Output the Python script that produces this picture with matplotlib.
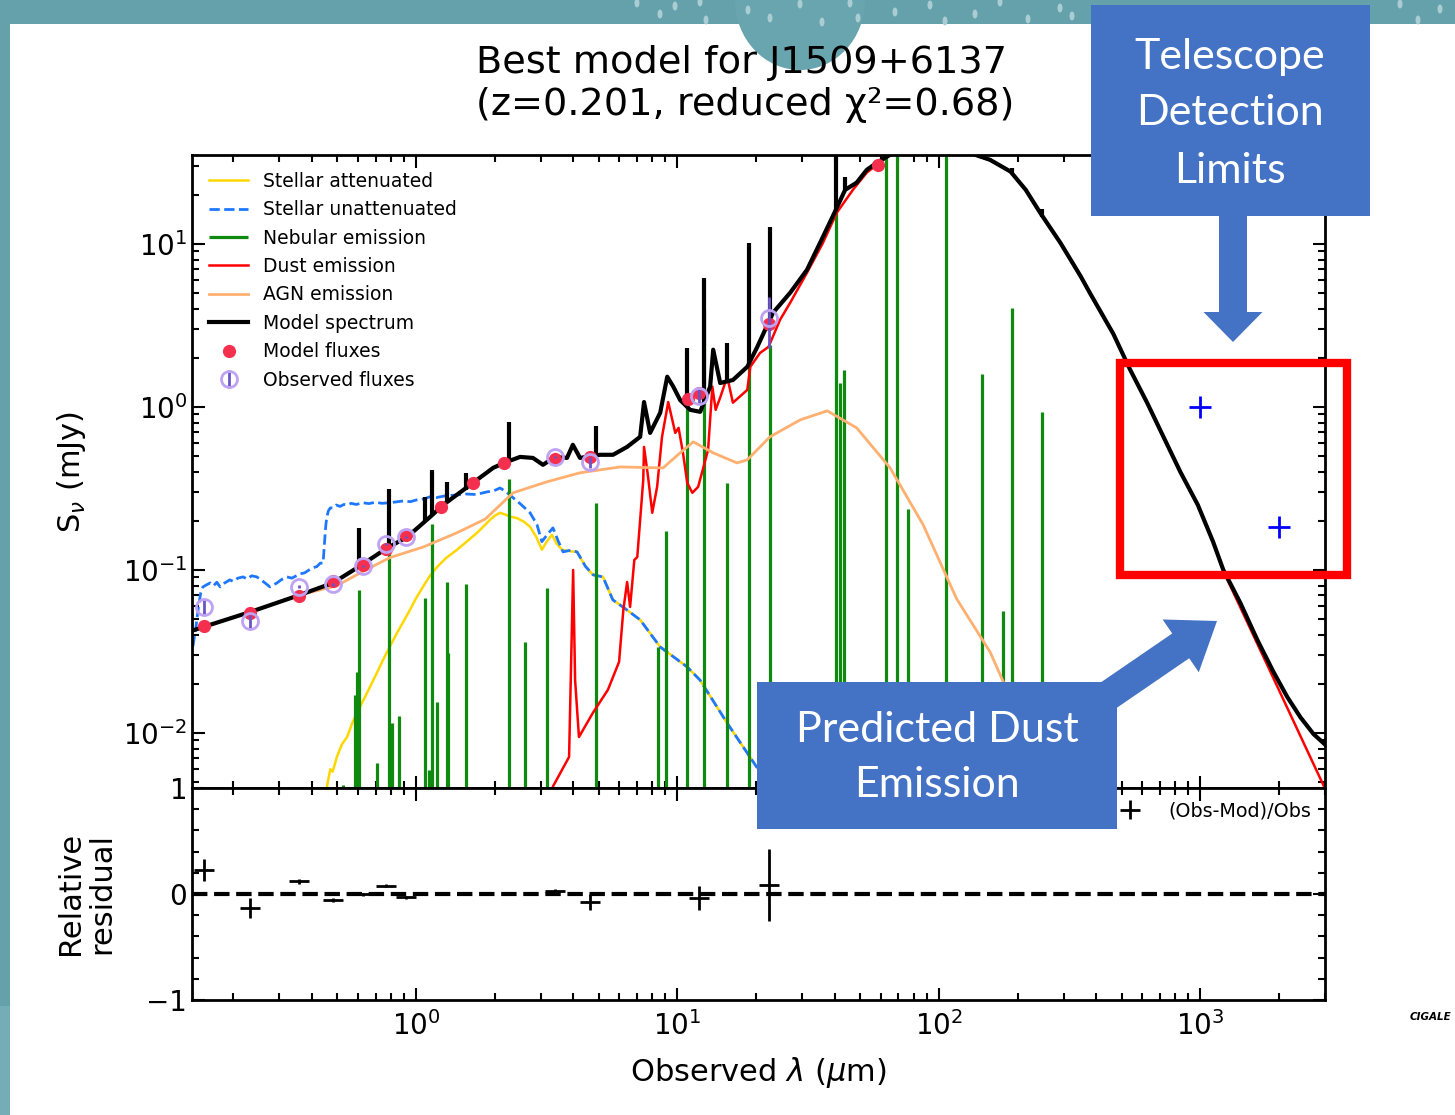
import numpy as np
import matplotlib.pyplot as plt
from matplotlib.patches import Rectangle, FancyArrow, Ellipse
from matplotlib.ticker import MultipleLocator

# SED components: (wavelength [micron], flux [mJy])
stellar_att = [
    (0.440, 0.0030), (0.456, 0.00467), (0.470, 0.0060), (0.480, 0.0058), (0.498, 0.00713),
    (0.520, 0.0085), (0.545, 0.00945), (0.570, 0.0115), (0.595, 0.0133), (0.630, 0.0160),
    (0.667, 0.0192), (0.705, 0.0230), (0.748, 0.0281), (0.795, 0.0340), (0.846, 0.0411),
    (0.900, 0.0490), (0.948, 0.0569), (1.00, 0.0670), (1.063, 0.0787), (1.13, 0.092),
    (1.203, 0.104), (1.30, 0.118), (1.435, 0.133), (1.57, 0.150), (1.712, 0.169),
    (1.82, 0.186), (1.919, 0.203), (2.00, 0.215), (2.096, 0.224), (2.20, 0.218),
    (2.30, 0.212), (2.43, 0.208), (2.58, 0.198), (2.73, 0.184), (2.88, 0.160),
    (3.03, 0.133), (3.17, 0.150), (3.31, 0.164), (3.45, 0.145), (3.62, 0.133),
    (3.90, 0.130), (4.13, 0.129), (4.45, 0.105), (4.76, 0.0932), (5.19, 0.0906),
    (5.66, 0.0655), (6.30, 0.058), (7.20, 0.0494), (8.59, 0.0337), (10.9, 0.0254),
    (12.2, 0.0211), (15.5, 0.0115), (20.1, 0.00618), (23.6, 0.00447), (30.0, 0.0022),
]

stellar_unatt = [
    (0.134, 0.028), (0.140, 0.0337), (0.144, 0.045), (0.147, 0.0585), (0.150, 0.072),
    (0.153, 0.0787), (0.158, 0.081), (0.163, 0.0832), (0.168, 0.080), (0.173, 0.084),
    (0.178, 0.0787), (0.185, 0.083), (0.194, 0.0869), (0.200, 0.085), (0.208, 0.089),
    (0.218, 0.0906), (0.226, 0.088), (0.235, 0.092), (0.246, 0.0906), (0.255, 0.087),
    (0.265, 0.083), (0.276, 0.0787), (0.285, 0.081), (0.294, 0.0832), (0.305, 0.087),
    (0.321, 0.0906), (0.335, 0.089), (0.348, 0.092), (0.360, 0.0945), (0.375, 0.096),
    (0.390, 0.100), (0.404, 0.103), (0.418, 0.105), (0.430, 0.110), (0.441, 0.110),
    (0.447, 0.150), (0.452, 0.190), (0.456, 0.211), (0.462, 0.230), (0.470, 0.240),
    (0.481, 0.240), (0.495, 0.250), (0.512, 0.245), (0.530, 0.252), (0.545, 0.250),
    (0.565, 0.256), (0.590, 0.252), (0.627, 0.258), (0.660, 0.255), (0.700, 0.260),
    (0.740, 0.256), (0.795, 0.258), (0.850, 0.262), (0.900, 0.265), (0.950, 0.262),
    (1.009, 0.269), (1.07, 0.272), (1.131, 0.281), (1.20, 0.278), (1.30, 0.285),
    (1.435, 0.288), (1.55, 0.292), (1.70, 0.290), (1.869, 0.301), (1.98, 0.305),
    (2.096, 0.318), (2.22, 0.300), (2.351, 0.277), (2.50, 0.255), (2.73, 0.224),
    (2.90, 0.190), (3.03, 0.149), (3.18, 0.165), (3.34, 0.181), (3.50, 0.150),
    (3.65, 0.129), (3.90, 0.132), (4.13, 0.129), (4.45, 0.105), (4.76, 0.0932),
    (5.19, 0.0906), (5.66, 0.0655), (6.30, 0.058), (7.20, 0.0494), (8.59, 0.0337),
    (10.9, 0.0254), (12.2, 0.0211), (15.5, 0.0115), (20.1, 0.00618), (23.6, 0.00447),
    (30.0, 0.0022),
]

dust = [
    (3.20, 0.0030), (3.34, 0.0047), (3.85, 0.00713), (3.99, 0.100), (4.06, 0.0211),
    (4.20, 0.00945), (4.75, 0.0133), (5.42, 0.0184), (5.98, 0.0273), (6.21, 0.0569),
    (6.42, 0.0844), (6.59, 0.0593), (6.84, 0.115), (7.02, 0.120), (7.40, 0.357),
    (7.45, 0.568), (7.72, 0.372), (8.01, 0.224), (8.36, 0.323), (8.73, 0.655),
    (9.22, 1.07), (9.81, 0.692), (10.1, 0.743), (10.5, 0.522), (10.9, 0.342),
    (11.4, 0.297), (12.0, 0.323), (13.1, 0.545), (13.6, 1.33), (14.0, 0.958),
    (14.6, 1.15), (15.5, 1.53), (16.3, 1.06), (18.5, 1.27), (19.0, 1.76),
    (20.7, 2.14), (22.3, 2.33), (24.7, 3.42), (27.0, 4.35), (31.3, 6.64),
    (36.0, 10.1), (40.7, 15.5), (46.9, 21.4), (53.0, 27.3), (58.0, 30.5),
    (63.3, 34.0), (77.6, 41.0), (95.0, 45.0), (115, 41.0), (137, 35.0),
    (157, 32.5), (188, 27.5), (215, 21.3), (244, 15.4), (292, 10.0),
    (348, 6.3), (378, 4.95), (465, 2.80), (539, 1.69), (626, 1.06),
    (720, 0.664), (839, 0.399), (979, 0.250), (1119, 0.149), (1225, 0.0985),
    (3140, 0.0039),
]

agn = [
    (0.134, 0.0415), (0.153, 0.0446), (0.232, 0.0552), (0.360, 0.0703), (0.498, 0.0800),
    (0.627, 0.098), (0.795, 0.119), (1.063, 0.138), (1.435, 0.169), (1.84, 0.205),
    (2.35, 0.297), (3.17, 0.347), (4.24, 0.394), (6.04, 0.428), (8.81, 0.422),
    (10.24, 0.522), (11.5, 0.610), (13.7, 0.522), (16.9, 0.453), (18.5, 0.473),
    (22.6, 0.655), (29.5, 0.832), (37.4, 0.945), (48.5, 0.743), (65.1, 0.422),
    (87.1, 0.189), (117, 0.0664), (157, 0.0314), (176, 0.0208), (244, 0.0046),
    (300, 0.0020),
]

model = [
    (0.134, 0.0415), (0.153, 0.0446), (0.232, 0.0552), (0.360, 0.0703), (0.481, 0.0832),
    (0.595, 0.103), (0.774, 0.136), (0.924, 0.159), (1.131, 0.211), (1.269, 0.250),
    (1.652, 0.342), (1.971, 0.422), (2.17, 0.453), (2.50, 0.493), (2.80, 0.486),
    (3.06, 0.441), (3.40, 0.493), (3.78, 0.486), (3.98, 0.585), (4.24, 0.486),
    (5.06, 0.508), (5.67, 0.508), (6.42, 0.568), (7.20, 0.655), (7.45, 1.07),
    (7.86, 0.692), (8.59, 0.919), (9.14, 1.53), (9.64, 1.33), (10.24, 1.10),
    (11.19, 0.958), (12.22, 0.932), (13.34, 1.33), (13.7, 2.24), (14.57, 1.40),
    (16.3, 1.46), (18.5, 1.76), (20.2, 2.33), (23.2, 3.77), (27.0, 5.01),
    (31.3, 6.92), (36.0, 11.0), (40.4, 16.2), (43.8, 21.4), (48.5, 23.7),
    (53.0, 28.4), (58.0, 31.4), (63.3, 34.2), (77.6, 41.5), (95.0, 45.5),
    (115, 41.5), (137, 35.2), (157, 32.7), (188, 27.7), (215, 21.4),
    (244, 15.5), (292, 10.1), (348, 6.35), (378, 5.0), (465, 2.80),
    (539, 1.69), (626, 1.06), (720, 0.664), (839, 0.399), (979, 0.250),
    (1119, 0.149), (1225, 0.100), (1423, 0.0628), (1653, 0.0372), (1905, 0.0237),
    (2153, 0.0166), (2415, 0.0125), (2710, 0.00986), (3050, 0.0083),
]

# emission lines riding on the model spectrum
model_line_wl = [0.605, 0.788, 1.085, 1.151, 1.31, 1.55, 2.27, 4.89, 10.86,
                 12.64, 15.47, 18.8, 22.6, 40.4, 43.8, 191, 249]
model_line_base = [0.104, 0.138, 0.198, 0.215, 0.257, 0.31, 0.465, 0.50, 1.0,
                   1.05, 1.43, 1.85, 3.5, 16.2, 21.4, 27.0, 14.6]
model_line_peak = [0.181, 0.314, 0.281, 0.411, 0.347, 0.394, 0.809, 0.765, 2.30,
                   6.19, 2.47, 10.1, 12.7, 100, 25.5, 29.0, 16.3]

neb_wl = [0.526, 0.584, 0.595, 0.605, 0.709, 0.788, 0.809, 0.861, 1.085, 1.121,
          1.151, 1.203, 1.31, 1.326, 1.55, 2.27, 2.61, 3.17, 4.89, 8.42,
          9.05, 10.86, 12.64, 15.47, 18.8, 22.6, 40.4, 42.0, 43.4, 62.9,
          69.3, 76.3, 106.7, 146.6, 176.3, 191, 249]
neb_peak = [0.0048, 0.0171, 0.0237, 0.0754, 0.00655, 0.138, 0.0115, 0.0127, 0.0673, 0.00593,
            0.191, 0.0155, 0.0844, 0.0310, 0.0820, 0.362, 0.0362, 0.0776, 0.258, 0.0337,
            0.173, 1.0, 4.0, 0.342, 1.86, 2.4, 16.0, 1.40, 1.69, 60,
            60, 0.237, 60, 1.59, 0.056, 4.05, 0.932]

# photometric bands
band_wl = [0.154, 0.232, 0.356, 0.48, 0.625, 0.77, 0.915, 1.245, 1.65, 2.17,
           3.40, 4.63, 10.99, 12.1, 22.4, 58.6]
band_model = [0.0455, 0.0547, 0.0696, 0.086, 0.1065, 0.134, 0.164, 0.2425, 0.340, 0.455,
              0.476, 0.492, 1.12, 1.22, 3.20, 30.5]
obs_band = [0, 1, 2, 3, 4, 5, 6, 10, 11, 13, 14]
obs_flux = [0.0590, 0.0484, 0.0790, 0.0817, 0.1063, 0.145, 0.159, 0.491, 0.458, 1.173, 3.50]
obs_err = [0.006, 0.0046, 0.002, 0.0015, 0.0015, 0.002, 0.002, 0.008, 0.035, 0.13, 1.2]

# detection limits of the far-IR / sub-mm instruments
limit_wl = [1000, 2000]
limit_flux = [1.0, 0.184]

W, H = 1455, 1115
fig = plt.figure(figsize=(W / 100, H / 100), dpi=100)


def fx(px):
    return px / W


def fy(py):
    return 1 - py / H


# slide background
bg = fig.add_axes([0, 0, 1, 1], zorder=-5)
bg.set_xlim(0, W)
bg.set_ylim(H, 0)
bg.axis('off')
teal = '#64a1ab'
bg.add_patch(Rectangle((0, 0), W, 24, color=teal, lw=0))
bg.add_patch(Rectangle((0, 0), 10, 1006, color=teal, lw=0))
bg.add_patch(Rectangle((0, 1006), 10, 109, color='#74adb5', lw=0))
bg.add_patch(Ellipse((800, 0), 130, 140, color='#69a5ae', lw=0))
dots = [(637, 3), (660, 14), (675, 6), (700, 2), (706, 20), (748, 10), (770, 18), (800, 4),
        (822, 22), (850, 3), (858, 18), (895, 12), (930, 5), (945, 21), (975, 14), (1000, 2),
        (1028, 19), (1060, 8), (1072, 16), (1400, 4), (1418, 20), (1440, 9)]
for dx, dy in dots:
    bg.add_patch(Ellipse((dx, dy), 5, 9, color='#a9cdd3', lw=0))

left, right = 192, 1325
ax1 = fig.add_axes([fx(left), fy(788), fx(right) - fx(left), fy(155) - fy(788)])
ax2 = fig.add_axes([fx(left), fy(1000), fx(right) - fx(left), fy(788) - fy(1000)], sharex=ax1)

sw, sf = np.array(stellar_att).T
ax1.plot(sw, sf, color='#ffd700', lw=1.8, label='Stellar attenuated')
sw, sf = np.array(stellar_unatt).T
ax1.plot(sw, sf, color='#1e78ff', lw=2, ls='--', label='Stellar unattenuated')
ax1.vlines(neb_wl, 1e-4, neb_peak, color='#0e8a0e', lw=2.3, label='Nebular emission')
dw, df = np.array(dust).T
ax1.plot(dw, df, color='#ff0000', lw=1.8, label='Dust emission')
aw, af = np.array(agn).T
ax1.plot(aw, af, color='#ffb070', lw=2, label='AGN emission')
mw, mf = np.array(model).T
ax1.plot(mw, mf, color='k', lw=3, label='Model spectrum')
ax1.vlines(model_line_wl, model_line_base, model_line_peak, color='k', lw=3)
ax1.plot(band_wl, band_model, 'o', color='#f5304e', ms=8.5, ls='none', label='Model fluxes')
obs_wl = [band_wl[i] for i in obs_band]
ax1.errorbar(obs_wl, obs_flux, yerr=obs_err, ls='none', marker='o', mfc='none',
             mec='#bea2f3', ms=11.5, mew=2, ecolor='#6a55c8', elinewidth=2, capsize=0,
             label='Observed fluxes')
ax1.plot(limit_wl, limit_flux, '+', color='#0000ff', ms=16, mew=2, zorder=10)

ax1.set_xscale('log')
ax1.set_yscale('log')
ax1.set_xlim(0.139, 3000)
ax1.set_ylim(0.0046, 35.0)
ax1.legend(loc='upper left', frameon=False, fontsize=13.5, labelspacing=0.5,
           handlelength=2.1, handletextpad=0.8, borderaxespad=0.5)
ax1.tick_params(labelbottom=False)

# residuals
model_at_obs = np.array([band_model[i] for i in obs_band])
obs_flux_a = np.array(obs_flux)
residual = (obs_flux_a - model_at_obs) / obs_flux_a
residual_err = np.array(obs_err) / obs_flux_a
ax2.errorbar(obs_wl, residual, yerr=residual_err, marker='_', ms=14, mew=2, color='k',
             ls='none', elinewidth=2, capsize=0, label='(Obs-Mod)/Obs')
ax2.axhline(0, color='k', lw=3, ls='--')
ax2.set_ylim(-1, 1)
ax2.set_yticks([-1, 0, 1])
ax2.yaxis.set_minor_locator(MultipleLocator(0.2))
ax2.legend(loc='upper right', frameon=False, fontsize=13.8, handlelength=1.6,
           handletextpad=1.2, borderaxespad=0.3)

for ax in (ax1, ax2):
    ax.tick_params(which='both', direction='in', top=True, right=True, width=1.5)
    ax.tick_params(which='major', length=9, labelsize=20)
    ax.tick_params(which='minor', length=5)
    for s in ax.spines.values():
        s.set_linewidth(2)
ax2.tick_params(axis='x', pad=8)

fig.text(fx(72), fy(472), r'S$_\nu$ (mJy)', rotation=90, ha='center', va='center', fontsize=22)
fig.text(fx(86), fy(893), 'Relative\nresidual', rotation=90, ha='center', va='center',
         fontsize=22, linespacing=1.1)
fig.text(fx(758), fy(1072), r'Observed $\lambda$ ($\mu$m)', ha='center', va='center', fontsize=22)
fig.text(fx(742), fy(63), 'Best model for J1509+6137', ha='center', va='center', fontsize=27.5)
fig.text(fx(745), fy(105), '(z=0.201, reduced χ²=0.68)', ha='center', va='center', fontsize=27.5)

# call-out boxes and arrows
ov = fig.add_axes([0, 0, 1, 1], zorder=10)
ov.set_xlim(0, W)
ov.set_ylim(H, 0)
ov.axis('off')
box_blue = '#4472c4'
ov.add_patch(Rectangle((1120, 363), 227, 212, fill=False, ec='#ff0000', lw=6))
ov.add_patch(Rectangle((1091, 5), 279, 211, color=box_blue, lw=0))
ov.add_patch(FancyArrow(1233, 214, 0, 128, width=28, head_width=59, head_length=30,
                        length_includes_head=True, color=box_blue, lw=0))
for txt, y in [('Telescope', 57), ('Detection', 113), ('Limits', 171)]:
    ov.text(1230, y, txt, color='white', fontsize=31, family='Lato', ha='center', va='center')
ov.add_patch(FancyArrow(1090, 708, 127, -87, width=30, head_width=64, head_length=44,
                        length_includes_head=True, color=box_blue, lw=0))
ov.add_patch(Rectangle((757, 682), 360, 147, color=box_blue, lw=0))
for txt, y in [('Predicted Dust', 730), ('Emission', 785)]:
    ov.text(937, y, txt, color='white', fontsize=31, family='Lato', ha='center', va='center')
ov.text(1410, 1017, 'CIGALE', fontsize=7.5, weight='bold', style='italic', ha='left', va='center')

fig.savefig('out.png', dpi=100)
